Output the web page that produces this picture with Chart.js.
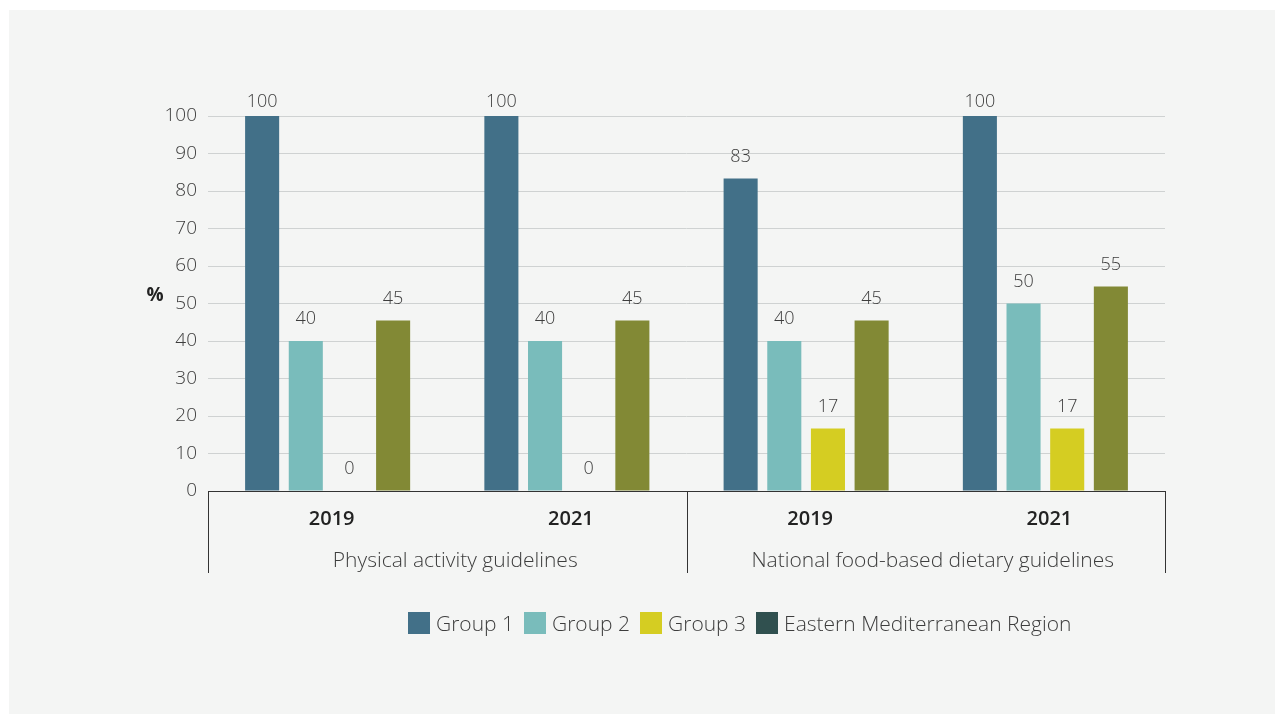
<!DOCTYPE html>
<html>
<head>
<meta charset="utf-8">
<script src="https://cdn.jsdelivr.net/npm/chart.js@4/dist/chart.umd.min.js"></script>
<style>
  html, body { margin: 0; padding: 0; background: #ffffff; }
  #panel { position: absolute; left: 9px; top: 10px; width: 1266px; height: 704px; background: #f4f5f4; }
  #wrap { position: absolute; left: 0; top: 0; width: 1282px; height: 717px; }
  #legend { position: absolute; left: 408px; top: 609px; display: flex; align-items: center;
            font-family: "Open Sans", sans-serif; font-weight: 300; font-size: 21px; color: #3d3d3d; }
  #legend .item { display: flex; align-items: center; margin-right: 10px; }
  #legend .sw { width: 22px; height: 22px; margin-right: 6px; }
</style>
</head>
<body>
<div id="panel"></div>
<div id="wrap"><canvas id="chart" width="1282" height="717"></canvas></div>
<div id="legend"></div>
<script>
// chart values
const years = ['2019', '2021', '2019', '2021'];
const guidelineGroups = ['Physical activity guidelines', 'National food-based dietary guidelines'];
const group1 = [100, 100, 83.33, 100];
const group2 = [40, 40, 40, 50];
const group3 = [0, 0, 16.67, 16.67];
const emr = [45.45, 45.45, 45.45, 54.55];
const yTicks = [0, 10, 20, 30, 40, 50, 60, 70, 80, 90, 100];

const seriesNames = ['Group 1', 'Group 2', 'Group 3', 'Eastern Mediterranean Region'];
const barColors = ['#427088', '#79bcbb', '#d5cd22', '#828935'];
const legendColors = ['#427088', '#79bcbb', '#d5cd22', '#30504f'];

const FONT = '"Open Sans", sans-serif';
const TEXT = '#3d3d3d';

// value labels above each bar (kept from running off the top of the plot)
const valueLabels = {
    id: 'valueLabels',
    afterDatasetsDraw(chart) {
        const ctx = chart.ctx;
        const top = chart.chartArea.top;
        ctx.save();
        ctx.font = '300 18px ' + FONT;
        ctx.fillStyle = TEXT;
        ctx.textAlign = 'center';
        ctx.textBaseline = 'middle';
        chart.data.datasets.forEach((ds, i) => {
            chart.getDatasetMeta(i).data.forEach((bar, j) => {
                const y = Math.max(bar.y - 22, top - 14);
                ctx.fillText(String(Math.round(ds.data[j])), bar.x, y);
            });
        });
        ctx.restore();
    }
};

// grouping brackets under the year labels, plus the % title
const groupAxis = {
    id: 'groupAxis',
    afterDraw(chart) {
        const ctx = chart.ctx;
        const x = chart.scales.x;
        const area = chart.chartArea;
        const bottom = area.bottom + 82;
        const mid = (x.getPixelForValue(1) + x.getPixelForValue(2)) / 2;
        ctx.save();
        ctx.strokeStyle = '#333333';
        ctx.lineWidth = 1;
        [area.left, mid, area.right].forEach(px => {
            const p = Math.round(px) + 0.5;
            ctx.beginPath();
            ctx.moveTo(p, area.bottom);
            ctx.lineTo(p, bottom);
            ctx.stroke();
        });
        ctx.font = '300 21px ' + FONT;
        ctx.fillStyle = TEXT;
        ctx.textAlign = 'center';
        ctx.textBaseline = 'middle';
        ctx.fillText(guidelineGroups[0], (area.left + mid) / 2 + 8, area.bottom + 70);
        ctx.fillText(guidelineGroups[1], (mid + area.right) / 2 + 7, area.bottom + 70);

        ctx.font = 'bold 19px ' + FONT;
        ctx.fillStyle = '#222222';
        ctx.fillText('%', 155, chart.scales.y.getPixelForValue(52));
        ctx.restore();
    }
};

const datasets = [group1, group2, group3, emr].map((values, i) => ({
    label: seriesNames[i],
    data: values,
    backgroundColor: barColors[i],
    borderWidth: 0,
    categoryPercentage: 0.73,
    barPercentage: 0.78
}));

new Chart(document.getElementById('chart'), {
    type: 'bar',
    data: { labels: years, datasets: datasets },
    options: {
        responsive: false,
        animation: false,
        layout: { padding: { left: 0, right: 117, top: 116, bottom: 0 } },
        plugins: { legend: { display: false }, tooltip: { enabled: false } },
        scales: {
            x: {
                grid: { display: false, drawTicks: false },
                border: { display: true, color: '#333333', width: 1 },
                ticks: { color: '#222222', font: { family: FONT, size: 20, weight: '600' }, padding: 16, labelOffset: 4 },
                afterFit(scale) { scale.height = 226; }
            },
            y: {
                min: 0,
                max: 100,
                afterBuildTicks(scale) { scale.ticks = yTicks.map(v => ({ value: v })); },
                grid: { color: '#cfd2d2', lineWidth: 1, drawTicks: false },
                border: { display: false },
                ticks: { color: TEXT, font: { family: FONT, size: 19, weight: '300' }, padding: 11 },
                afterFit(scale) { scale.width = 208; }
            }
        }
    },
    plugins: [valueLabels, groupAxis]
});

// legend row
const legendEl = document.getElementById('legend');
seriesNames.forEach((name, i) => {
    const item = document.createElement('div');
    item.className = 'item';
    const sw = document.createElement('div');
    sw.className = 'sw';
    sw.style.background = legendColors[i];
    const label = document.createElement('span');
    label.textContent = name;
    item.appendChild(sw);
    item.appendChild(label);
    legendEl.appendChild(item);
});
</script>
</body>
</html>
